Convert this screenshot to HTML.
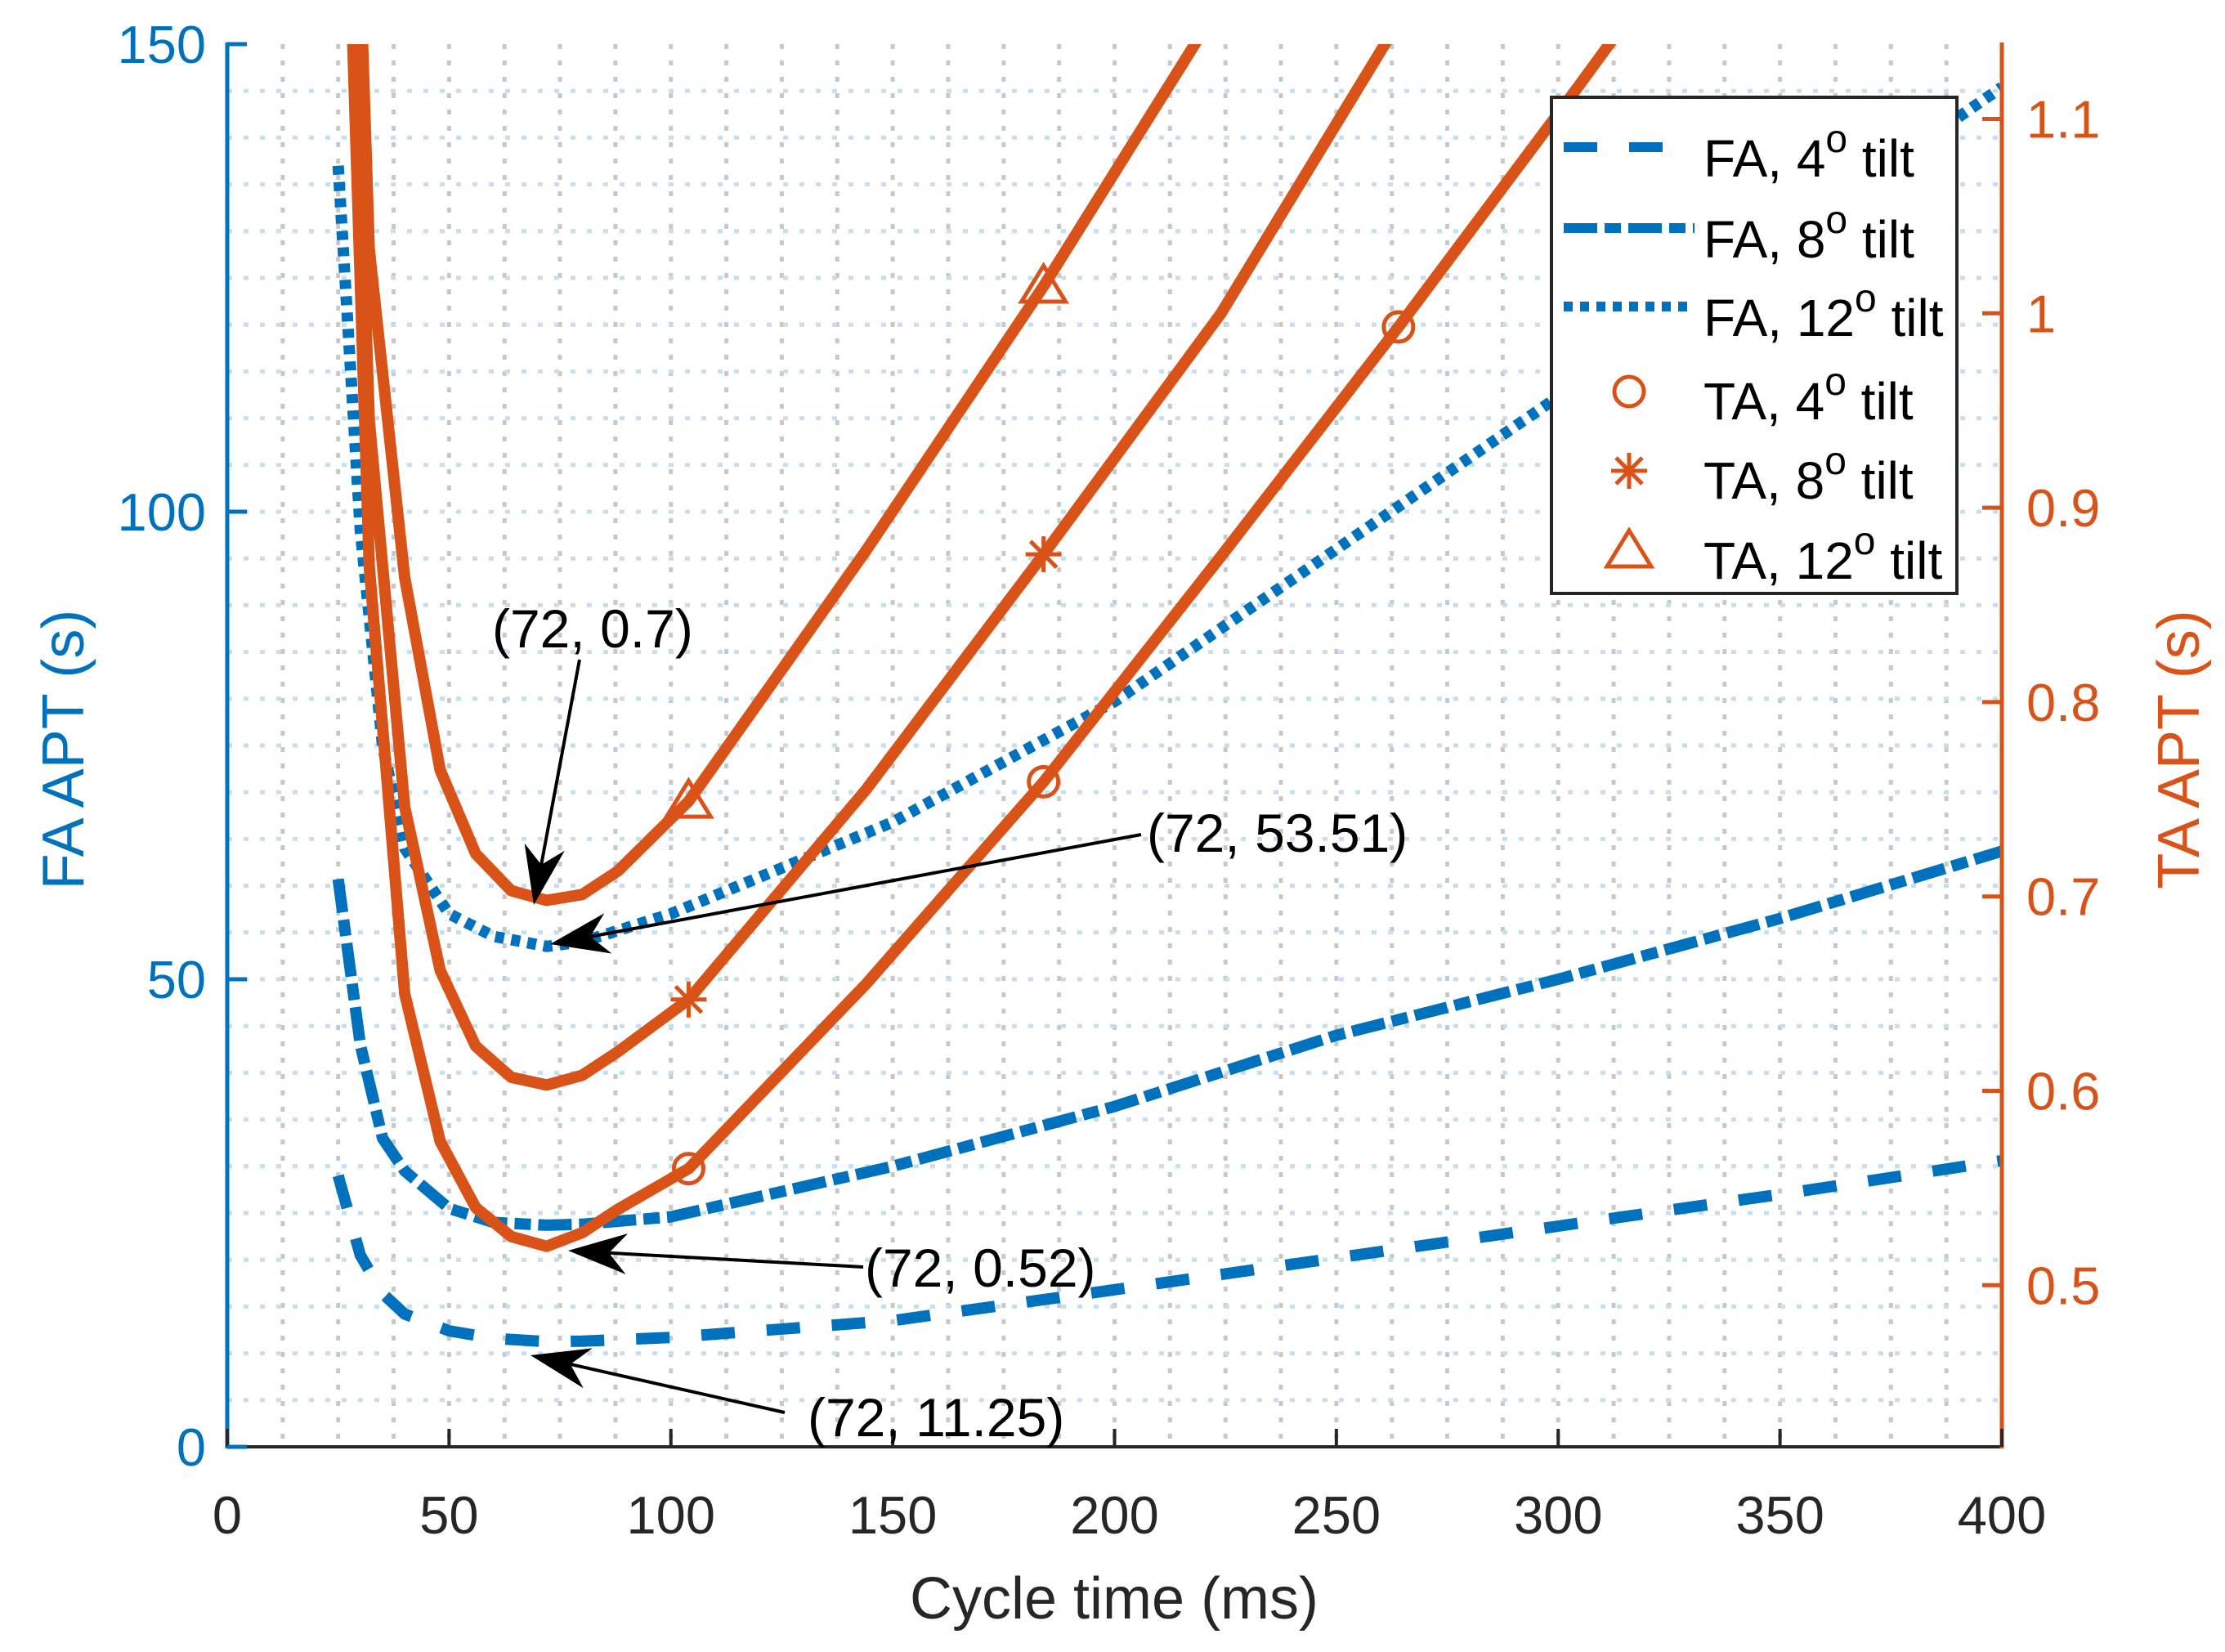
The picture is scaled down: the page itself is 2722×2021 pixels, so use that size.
<!DOCTYPE html>
<html><head><meta charset="utf-8"><style>
html,body{margin:0;padding:0;background:#fff;}
svg{display:block;font-family:"Liberation Sans",Arial,sans-serif;}
</style></head><body>
<svg id="chart" xmlns="http://www.w3.org/2000/svg" width="2722" height="2021" viewBox="0 0 2722 2021">
<defs><clipPath id="plotclip"><rect x="278" y="54" width="2171" height="1716"/></clipPath></defs>
<rect x="0" y="0" width="2722" height="2021" fill="#fff"/>
<g id="grid"></g>
<g id="series" clip-path="url(#plotclip)"></g>
<g id="markers"></g>
<g id="axes"></g>
<g id="annots"></g>
<g id="legend"></g>
</svg>
<script>
// ---- data ----
var faT = [25, 30, 35, 40, 50, 60, 72, 80, 100, 150, 200, 250, 300, 350, 400];
var fa4 = [29, 20.5, 16.4, 14.2, 12.4, 11.6, 11.25, 11.3, 11.7, 13.5, 16.8, 20.2, 23.6, 27, 30.6];
var fa8 = [60.7, 43, 33, 29.5, 25.5, 24, 23.7, 23.8, 24.6, 30, 36.4, 44, 50, 56.5, 63.7];
var fa12 = [137, 98, 75, 64, 57, 54.6, 53.51, 54, 57, 66.8, 79.7, 96, 112.3, 129, 145.4];
var taT = [24, 32, 40, 48, 56, 64, 72, 80, 88, 104, 144, 184, 224, 264, 304, 344];
var ta4 = [1.45, 0.87, 0.65, 0.574, 0.54, 0.525, 0.52, 0.527, 0.539, 0.56, 0.655, 0.759, 0.875, 0.993, 1.115, 1.24];
var ta8 = [1.5, 0.945, 0.746, 0.662, 0.623, 0.607, 0.603, 0.608, 0.62, 0.647, 0.755, 0.876, 1.0, 1.15, 1.3, 1.45];
var ta12 = [1.6, 1.033, 0.864, 0.765, 0.722, 0.703, 0.698, 0.701, 0.713, 0.749, 0.878, 1.014, 1.16, 1.31, 1.46, 1.61];
var markerT = [104, 184, 264];
var xTicks = [0, 50, 100, 150, 200, 250, 300, 350, 400];
var yLTicks = [0, 50, 100, 150];
var yRTicks = [0.5, 0.6, 0.7, 0.8, 0.9, 1, 1.1];
var annText = ["(72, 0.7)", "(72, 53.51)", "(72, 0.52)", "(72, 11.25)"];

// ---- axes functions ----
var X0 = 278, X1 = 2449, Y0 = 1770, Y1 = 54;
function xs(t) { return X0 + t * (X1 - X0) / 400; }
function yl(v) { return Y0 - v * (Y0 - Y1) / 150; }
function yr(v) { return 1572.3 - (v - 0.5) * 2378; }
var BLUE = "#0072BD", ORANGE = "#D95319", AX = "#262626";
var NS = "http://www.w3.org/2000/svg";
function mk(tag, attrs, parent) {
  var e = document.createElementNS(NS, tag);
  for (var k in attrs) e.setAttribute(k, attrs[k]);
  parent.appendChild(e);
  return e;
}
function G(id) { return document.getElementById(id); }

// grid
var grid = G('grid');
for (var t = 12.5; t < 400; t += 12.5) {
  var gl = mk('line', {x1: xs(t), x2: xs(t), y1: Y1, y2: Y0, stroke: '#c8c8c8', 'stroke-width': 5, 'stroke-dasharray': '6 14'}, grid);
  
  
}
for (var v = 5; v < 150; v += 5) {
  var hl2 = mk('line', {x1: X0, x2: X1, y1: yl(v), y2: yl(v), stroke: '#c4dff0', 'stroke-width': 5, 'stroke-dasharray': '6 14'}, grid);
  
  
}

// series
var ser = G('series');
function poly(T, V, yf, color, dash, name) {
  var pts = T.map(function (tt, i) { return xs(tt).toFixed(1) + ',' + yf(V[i]).toFixed(1); }).join(' ');
  var p = mk('polyline', {points: pts, fill: 'none', stroke: color, 'stroke-width': 14, 'stroke-linejoin': 'round'}, ser);
  if (dash) p.setAttribute('stroke-dasharray', dash);
  
  
}
poly(faT, fa4, yl, BLUE, '41 39', 'fa-4-tilt-line');
poly(faT, fa8, yl, BLUE, '41 9 20 9', 'fa-8-tilt-line');
poly(faT, fa12, yl, BLUE, '11 9', 'fa-12-tilt-line');
poly(taT, ta4, yr, ORANGE, null, 'ta-4-tilt-line');
poly(taT, ta8, yr, ORANGE, null, 'ta-8-tilt-line');
poly(taT, ta12, yr, ORANGE, null, 'ta-12-tilt-line');

// markers
var mg = G('markers');
function interp(T, V, tt) {
  for (var i = 0; i < T.length - 1; i++) if (tt >= T[i] && tt <= T[i + 1]) return V[i] + (V[i + 1] - V[i]) * (tt - T[i]) / (T[i + 1] - T[i]);
  return null;
}
function marker(kind, cx, cy, parent) {
  var e;
  if (kind === 'o') e = mk('circle', {cx: cx, cy: cy, r: 18, fill: 'none', stroke: ORANGE, 'stroke-width': 5}, parent);
  else if (kind === '*') {
    var d = 22, s = 16;
    e = mk('path', {d: 'M' + (cx - d) + ',' + cy + 'H' + (cx + d) + 'M' + cx + ',' + (cy - d) + 'V' + (cy + d) + 'M' + (cx - s) + ',' + (cy - s) + 'L' + (cx + s) + ',' + (cy + s) + 'M' + (cx - s) + ',' + (cy + s) + 'L' + (cx + s) + ',' + (cy - s), stroke: ORANGE, 'stroke-width': 5, fill: 'none'}, parent);
  } else e = mk('polygon', {points: cx + ',' + (cy - 25) + ' ' + (cx + 27) + ',' + (cy + 19) + ' ' + (cx - 27) + ',' + (cy + 19), fill: 'none', stroke: ORANGE, 'stroke-width': 5}, parent);
  return e;
}
[[ta4, 'o', 'ta-4-marker'], [ta8, '*', 'ta-8-marker'], [ta12, '^', 'ta-12-marker']].forEach(function (m) {
  markerT.forEach(function (tt) {
    var val = interp(taT, m[0], tt);
    if (val === null || yr(val) < Y1) return;
    var e = marker(m[1], xs(tt), yr(val), mg);
    
    
  });
});

// axes
var ax = G('axes');
var a;
a = mk('line', {x1: X0, x2: X1, y1: Y0, y2: Y0, stroke: AX, 'stroke-width': 4}, ax);


a = mk('line', {x1: X0, x2: X0, y1: Y1 - 2, y2: Y0 + 2, stroke: BLUE, 'stroke-width': 5}, ax);


a = mk('line', {x1: X1, x2: X1, y1: Y1 - 2, y2: Y0 + 2, stroke: ORANGE, 'stroke-width': 5}, ax);


xTicks.forEach(function (tt) {
  var tk = mk('line', {x1: xs(tt), x2: xs(tt), y1: Y0, y2: Y0 - 22, stroke: AX, 'stroke-width': 4}, ax);
  
  
  var tx = mk('text', {x: xs(tt), y: 1876, 'font-size': 65, fill: AX, 'text-anchor': 'middle'}, ax);
  tx.textContent = tt;
  
  
});
yLTicks.forEach(function (vv) {
  var tk = mk('line', {x1: X0, x2: X0 + 24, y1: yl(vv), y2: yl(vv), stroke: BLUE, 'stroke-width': 5}, ax);
  
  
  var tx = mk('text', {x: 252, y: yl(vv) + 23, 'font-size': 65, fill: BLUE, 'text-anchor': 'end'}, ax);
  tx.textContent = vv;
  
  
});
yRTicks.forEach(function (vv) {
  var tk = mk('line', {x1: X1 - 24, x2: X1, y1: yr(vv), y2: yr(vv), stroke: ORANGE, 'stroke-width': 5}, ax);
  
  
  var tx = mk('text', {x: 2479, y: yr(vv) + 23, 'font-size': 65, fill: ORANGE, 'text-anchor': 'start'}, ax);
  tx.textContent = vv;
  
  
});
var lb = mk('text', {x: 1363, y: 1980, 'font-size': 72, fill: AX, 'text-anchor': 'middle'}, ax);
lb.textContent = 'Cycle time (ms)';


lb = mk('text', {x: 0, y: 0, 'font-size': 72, fill: BLUE, 'text-anchor': 'middle', transform: 'translate(102,917) rotate(-90)'}, ax);
lb.textContent = 'FA APT (s)';


lb = mk('text', {x: 0, y: 0, 'font-size': 72, fill: ORANGE, 'text-anchor': 'middle', transform: 'translate(2690,917) rotate(-90)'}, ax);
lb.textContent = 'TA APT (s)';



// annotations
var an = G('annots');
function arrow(x1, y1, x2, y2, parent) {
  var dx = x2 - x1, dy = y2 - y1, L = Math.sqrt(dx * dx + dy * dy), ux = dx / L, uy = dy / L, px = -uy, py = ux;
  var hl = 72, hw = 25, nb = 50;
  var g = mk('g', {}, parent);
  mk('line', {x1: x1, y1: y1, x2: x2 - ux * nb, y2: y2 - uy * nb, stroke: '#000', 'stroke-width': 4}, g);
  var bx = x2 - ux * hl, by = y2 - uy * hl, nx = x2 - ux * nb, ny = y2 - uy * nb;
  mk('polygon', {points: x2 + ',' + y2 + ' ' + (bx + px * hw) + ',' + (by + py * hw) + ' ' + nx + ',' + ny + ' ' + (bx - px * hw) + ',' + (by - py * hw), fill: '#000'}, g);
  return g;
}
var annArrows = [[709, 807, 653, 1107], [1396, 1021, 673, 1155], [1056, 1550, 695, 1530], [960, 1728, 649, 1658]];
var annPos = [[602, 792], [1403, 1042], [1058, 1574], [988, 1757]];
for (var i = 0; i < annText.length; i++) {
  var aa = annArrows[i];
  var ag = arrow(aa[0], aa[1], aa[2], aa[3], an);
  
  
  var at = mk('text', {x: annPos[i][0], y: annPos[i][1], 'font-size': 66, fill: '#000'}, an);
  at.textContent = annText[i];
  
  
}

// legend
var lg = G('legend');
var box = mk('rect', {x: 1898, y: 119, width: 496, height: 607, fill: '#fff', stroke: AX, 'stroke-width': 4}, lg);


var rows = [
  ['FA, ', '4', 'line', '41 39', BLUE],
  ['FA, ', '8', 'line', '41 9 20 9', BLUE],
  ['FA, ', '12', 'line', '11 9', BLUE],
  ['TA, ', '4', 'o', null, ORANGE],
  ['TA, ', '8', '*', null, ORANGE],
  ['TA, ', '12', '^', null, ORANGE]
];
var rowY = [192, 291, 387, 489, 586, 684];
for (var j = 0; j < rows.length; j++) {
  var r = rows[j], cy = rowY[j];
  var eg = mk('g', {}, lg);
  
  
  if (r[2] === 'line') mk('line', {x1: 1913, x2: 2073, y1: cy - 12, y2: cy - 12, stroke: r[4], 'stroke-width': 12, 'stroke-dasharray': r[3]}, eg);
  else marker(r[2], 1993, cy - 10, eg);
  var lt = mk('text', {x: 2084, y: cy + 24, 'font-size': 64, fill: '#000'}, eg);
  lt.appendChild(document.createTextNode(r[0] + r[1]));
  var sup = mk('tspan', {dy: -30, 'font-size': 48}, lt);
  sup.textContent = 'o';
  var rest = mk('tspan', {dy: 30}, lt);
  rest.textContent = '\u00a0tilt';
}
</script>
</body></html>
